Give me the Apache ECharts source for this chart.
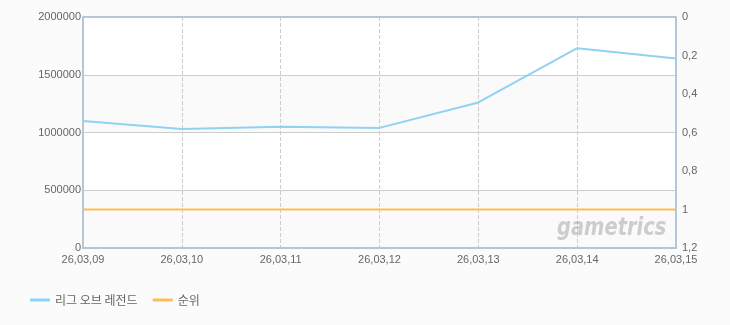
<!DOCTYPE html>
<html><head><meta charset="utf-8">
<script src="https://cdn.jsdelivr.net/npm/echarts@6/dist/echarts.min.js"></script>
<style>html,body{margin:0;padding:0;background:#fbfbfb;}#c{width:730px;height:325px;}</style>
</head><body><div id="c"></div>
<script>
const categories = ['26,03,09','26,03,10','26,03,11','26,03,12','26,03,13','26,03,14','26,03,15'];
const lolValues = [1100000, 1030000, 1050000, 1040000, 1260000, 1730000, 1640000];
const rankValues = [1, 1, 1, 1, 1, 1, 1];
const seriesNames = ['리그 오브 레전드', '순위'];

const chart = echarts.init(document.getElementById('c'), null, {renderer:'canvas'});
const labelStyle = {color:'#666', fontSize:11, fontFamily:'Liberation Sans, Arial, sans-serif'};
chart.setOption({
  backgroundColor:'#fbfbfb',
  animation:false,
  grid:{left:83, right:54, top:17, bottom:77, show:true, backgroundColor:'#fff', borderWidth:0},
  legend:{
    left:30, top:294, padding:0, icon:'rect', itemWidth:20, itemHeight:3, itemGap:15,
    textStyle:{color:'#666', fontSize:12, fontFamily:'Noto Sans CJK KR, sans-serif'},
    data:seriesNames
  },
  xAxis:{
    type:'category', data:categories, boundaryGap:false,
    axisLine:{lineStyle:{color:'#b4c6d8', width:2}},
    axisTick:{show:false},
    axisLabel:Object.assign({margin:6, interval:0}, labelStyle),
    splitLine:{show:true, lineStyle:{color:'#cccccc', type:'dashed'}}
  },
  yAxis:[{
    type:'value', min:0, max:2000000, interval:500000,
    axisLine:{show:true, lineStyle:{color:'#b4c6d8', width:2}},
    axisTick:{show:false},
    axisLabel:Object.assign({margin:2, formatter:v=>String(v)}, labelStyle),
    splitLine:{lineStyle:{color:'#cccccc'}},
    splitArea:{show:true, areaStyle:{color:['#fafafa','#ffffff']}}
  },{
    type:'value', min:0, max:1.2, interval:0.2, inverse:true,
    axisLine:{show:true, lineStyle:{color:'#b4c6d8', width:2}},
    axisTick:{show:false},
    axisLabel:Object.assign({margin:6, formatter:v=>String(Math.round(v*10)/10).replace('.',',')}, labelStyle),
    splitLine:{show:false}
  }],
  graphic:[{
    type:'text', x:557, y:216, scaleX:0.78, z:100, silent:true,
    style:{text:'gametrics', fill:'rgba(150,150,150,0.45)', font:'italic bold 25px "DejaVu Sans", sans-serif'}
  },{
    type:'rect', shape:{x:83,y:16,width:593,height:2}, style:{fill:'#b4c6d8'}, z:100
  }],
  series:[{
    name:seriesNames[0], type:'line', data:lolValues, yAxisIndex:0,
    showSymbol:false, symbol:'none', color:'#90d2f3', lineStyle:{width:2, color:'#90d2f3'}
  },{
    name:seriesNames[1], type:'line', data:rankValues, yAxisIndex:1,
    showSymbol:false, symbol:'none', color:'#ffbb55', lineStyle:{width:2, color:'#ffbb55'}
  }]
});
</script></body></html>
